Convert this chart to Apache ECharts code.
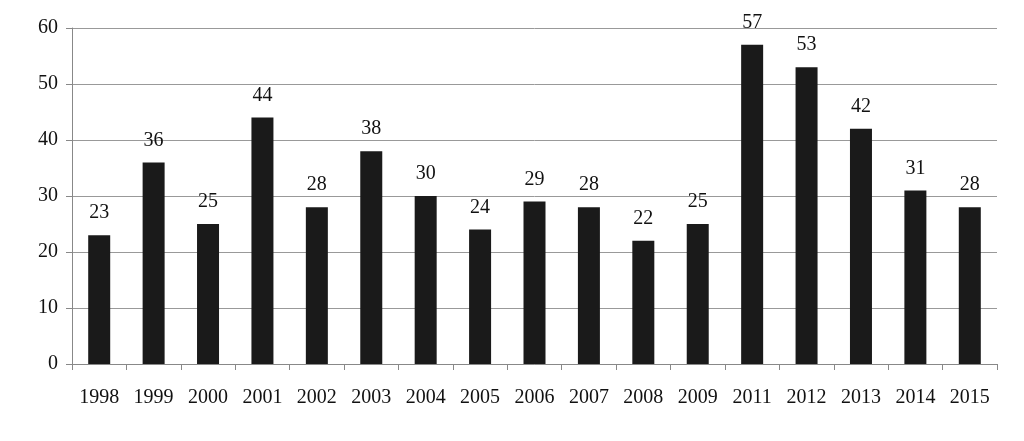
<!DOCTYPE html>
<html><head><meta charset="utf-8">
<script src="https://cdn.jsdelivr.net/npm/echarts@6/dist/echarts.min.js"></script>
<style>html,body{margin:0;padding:0;background:#fff}#c{width:1024px;height:441px}</style>
</head><body><div id="c"></div>
<script>
const categories = ['1998','1999','2000','2001','2002','2003','2004','2005','2006','2007','2008','2009','2011','2012','2013','2014','2015'];
const values = [23,36,25,44,28,38,30,24,29,28,22,25,57,53,42,31,28];
const yTicks = {min:0, max:60, interval:10};
const font = '"Liberation Serif","Times New Roman",serif';
const chart = echarts.init(document.getElementById('c'));
chart.setOption({
  animation:false,
  grid:{left:72,right:27,top:28,bottom:77,containLabel:false},
  xAxis:{type:'category',data:categories,
    axisLine:{lineStyle:{color:'#888'}},
    axisTick:{show:true,length:6,lineStyle:{color:'#888'}},
    axisLabel:{color:'#111',fontFamily:font,fontSize:20,margin:24,interval:0}},
  yAxis:{type:'value',min:yTicks.min,max:yTicks.max,interval:yTicks.interval,
    axisLine:{show:true,lineStyle:{color:'#888'}},
    axisTick:{show:true,length:6,lineStyle:{color:'#888'}},
    splitLine:{lineStyle:{color:'#999'}},
    axisLabel:{color:'#111',fontFamily:font,fontSize:20,margin:14}},
  series:[{type:'bar',data:values,barWidth:22,itemStyle:{color:'#1a1a1a'},
    label:{show:true,position:'top',distance:12,color:'#111',fontFamily:font,fontSize:20}}]
});
</script></body></html>
